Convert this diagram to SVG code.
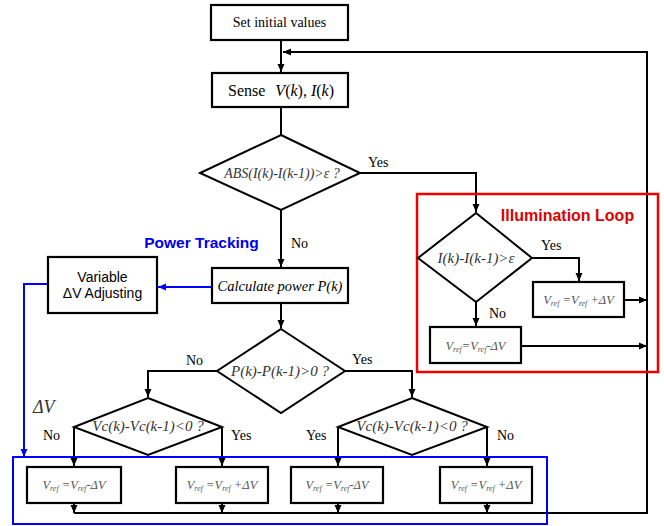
<svg xmlns="http://www.w3.org/2000/svg" width="664" height="526" viewBox="0 0 664 526">
<style>
.box{fill:#fff;stroke:#000;stroke-width:2.2}
.dia{fill:#fff;stroke:#000;stroke-width:2}
.ln{fill:none;stroke:#000;stroke-width:2}
.bl{fill:none;stroke:#0000ff;stroke-width:2}
.t{font-family:"Liberation Serif","Times New Roman",serif;font-size:14px;fill:#000}
.it{font-family:"Liberation Serif","Times New Roman",serif;font-style:italic;fill:#333}
.vr{font-family:"Liberation Serif","Times New Roman",serif;font-style:italic;font-size:12.5px;fill:#555}
.sans{font-family:"Liberation Sans",Arial,sans-serif}
</style>
<defs>
<marker id="ah" markerWidth="8" markerHeight="8" refX="8" refY="4" orient="auto" markerUnits="userSpaceOnUse"><path d="M0,0.5 L8,4 L0,7.5 z" fill="#000"/></marker>
<marker id="ahb" markerWidth="8" markerHeight="8" refX="8" refY="4" orient="auto" markerUnits="userSpaceOnUse"><path d="M0,0.5 L8,4 L0,7.5 z" fill="#0000ff"/></marker>
</defs>
<g id="connectors">
<path class="ln" d="M281,40 V72" marker-end="url(#ah)"/>
<path class="ln" d="M74,513 H647 V52 H283" marker-end="url(#ah)"/>
<path class="ln" d="M281,107 V135"/>
<path class="ln" d="M281,210 V267" marker-end="url(#ah)"/>
<path class="ln" d="M360,173 H476 V212" marker-end="url(#ah)"/>
<path class="ln" d="M532,258 H579 V281" marker-end="url(#ah)"/>
<path class="ln" d="M476,302 V326" marker-end="url(#ah)"/>
<path class="ln" d="M624,300 H647" marker-end="url(#ah)"/>
<path class="ln" d="M521,346 H647" marker-end="url(#ah)"/>
<path class="ln" d="M281,303 V328" marker-end="url(#ah)"/>
<path class="ln" d="M217,371 H148 V397" marker-end="url(#ah)"/>
<path class="ln" d="M345,371 H412 V397" marker-end="url(#ah)"/>
<path class="ln" d="M74,427 V466" marker-end="url(#ah)"/>
<path class="ln" d="M222,427 V466" marker-end="url(#ah)"/>
<path class="ln" d="M338,427 V466" marker-end="url(#ah)"/>
<path class="ln" d="M487,427 V466" marker-end="url(#ah)"/>
<path class="ln" d="M74,503 V513" marker-end="url(#ah)"/>
<path class="ln" d="M222,503 V513" marker-end="url(#ah)"/>
<path class="ln" d="M338,503 V513" marker-end="url(#ah)"/>
<path class="ln" d="M487,503 V513" marker-end="url(#ah)"/>
<path class="bl" d="M212,287 H158" marker-end="url(#ahb)"/>
<path class="bl" d="M48,284 H24 V457" marker-end="url(#ahb)"/>
</g>
<g id="illumination-loop">
<rect x="417" y="194" width="241" height="178" fill="none" stroke="#ee0000" stroke-width="2.5"/>
<text class="sans" x="567.5" y="221" font-size="16" font-weight="bold" fill="#dd0000" text-anchor="middle">Illumination Loop</text>
</g>
<g id="power-tracking">
<rect x="13" y="457" width="534" height="67" fill="none" stroke="#0000ff" stroke-width="2"/>
<text class="sans" x="201.5" y="248" font-size="15.5" font-weight="bold" fill="#0000ee" text-anchor="middle">Power Tracking</text>
<text class="it" x="33" y="413" font-size="18" fill="#333">ΔV</text>
</g>
<g id="set-initial">
<rect class="box" x="211" y="5" width="137" height="35"/>
<text class="t" x="279.5" y="27" text-anchor="middle">Set initial values</text>
</g>
<g id="sense">
<rect class="box" x="212" y="73" width="136" height="34"/>
<text class="t" x="281" y="96" style="font-size:16px" text-anchor="middle">Sense <tspan dx="6" font-style="italic">V</tspan>(<tspan font-style="italic">k</tspan>), <tspan font-style="italic">I</tspan>(<tspan font-style="italic">k</tspan>)</text>
</g>
<g id="abs-check">
<polygon class="dia" points="281,135 360,173 281,210 200,173"/>
<text class="it" x="282" y="178" font-size="14" text-anchor="middle">ABS(I(k)-I(k-1))&gt;ε ?</text>
<text class="t" x="368" y="167">Yes</text>
<text class="t" x="291" y="248">No</text>
</g>
<g id="illum-check">
<polygon class="dia" points="476,213 532,258 476,302 418,258"/>
<text class="it" x="476" y="263" font-size="15" text-anchor="middle">I(k)-I(k-1)&gt;ε</text>
<text class="t" x="541" y="250">Yes</text>
<text class="t" x="489" y="318">No</text>
</g>
<g id="illum-plus">
<rect class="box" x="533" y="282" width="91" height="35"/>
<text class="vr" x="578.5" y="304" text-anchor="middle">V<tspan font-size="8" dy="2">ref</tspan><tspan dy="-2"> =V</tspan><tspan font-size="8" dy="2">ref</tspan><tspan dy="-2"> +ΔV</tspan></text>
</g>
<g id="illum-minus">
<rect class="box" x="430" y="327" width="91" height="36"/>
<text class="vr" x="475.5" y="350" text-anchor="middle">V<tspan font-size="8" dy="2">ref</tspan><tspan dy="-2">=V</tspan><tspan font-size="8" dy="2">ref</tspan><tspan dy="-2">-ΔV</tspan></text>
</g>
<g id="variable-dv">
<rect class="box" x="48" y="257" width="109" height="56"/>
<text class="sans" x="102.5" y="282" font-size="14" text-anchor="middle">Variable</text>
<text class="sans" x="102.5" y="298" font-size="14" text-anchor="middle">ΔV Adjusting</text>
</g>
<g id="calc-power">
<rect class="box" x="212" y="268" width="136" height="35"/>
<text class="t" x="280" y="291" style="font-size:14.5px;font-style:italic" text-anchor="middle">Calculate power P(k)</text>
</g>
<g id="power-check">
<polygon class="dia" points="281,329 345,371 281,413 217,371"/>
<text class="it" x="280" y="376" font-size="15" text-anchor="middle">P(k)-P(k-1)&gt;0 ?</text>
<text class="t" x="186" y="365">No</text>
<text class="t" x="352" y="364">Yes</text>
</g>
<g id="vc-check-left">
<polygon class="dia" points="148,398 222,427 148,455 74,427"/>
<text class="it" x="148" y="431" font-size="15" text-anchor="middle">Vc(k)-Vc(k-1)&lt;0 ?</text>
<text class="t" x="43" y="440">No</text>
<text class="t" x="231" y="440">Yes</text>
</g>
<g id="vc-check-right">
<polygon class="dia" points="412,398 487,427 412,455 338,427"/>
<text class="it" x="412" y="431" font-size="15" text-anchor="middle">Vc(k)-Vc(k-1)&lt;0 ?</text>
<text class="t" x="306" y="440">Yes</text>
<text class="t" x="497" y="440">No</text>
</g>
<g id="out-1">
<rect class="box" x="27" y="467" width="94" height="36"/>
<text class="vr" x="74" y="489" text-anchor="middle">V<tspan font-size="8" dy="2">ref</tspan><tspan dy="-2"> =V</tspan><tspan font-size="8" dy="2">ref</tspan><tspan dy="-2">-ΔV</tspan></text>
</g>
<g id="out-2">
<rect class="box" x="176" y="467" width="92" height="36"/>
<text class="vr" x="222" y="489" text-anchor="middle">V<tspan font-size="8" dy="2">ref</tspan><tspan dy="-2"> =V</tspan><tspan font-size="8" dy="2">ref</tspan><tspan dy="-2"> +ΔV</tspan></text>
</g>
<g id="out-3">
<rect class="box" x="291" y="467" width="92" height="36"/>
<text class="vr" x="337" y="489" text-anchor="middle">V<tspan font-size="8" dy="2">ref</tspan><tspan dy="-2"> =V</tspan><tspan font-size="8" dy="2">ref</tspan><tspan dy="-2">-ΔV</tspan></text>
</g>
<g id="out-4">
<rect class="box" x="440" y="467" width="92" height="36"/>
<text class="vr" x="486" y="489" text-anchor="middle">V<tspan font-size="8" dy="2">ref</tspan><tspan dy="-2"> =V</tspan><tspan font-size="8" dy="2">ref</tspan><tspan dy="-2"> +ΔV</tspan></text>
</g>
</svg>
